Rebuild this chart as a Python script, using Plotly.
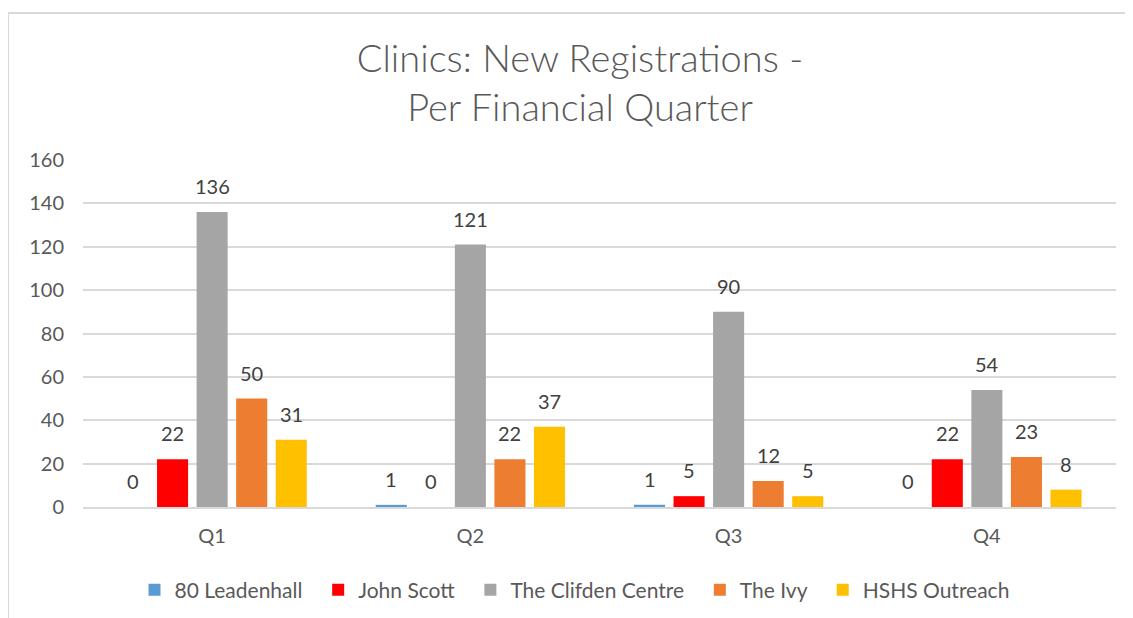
import plotly.graph_objects as go

quarters = ["Q1", "Q2", "Q3", "Q4"]
series_names = ["80 Leadenhall", "John Scott", "The Clifden Centre", "The Ivy", "HSHS Outreach"]
leadenhall = [0, 1, 1, 0]
john_scott = [22, 0, 5, 22]
clifden = [136, 121, 90, 54]
ivy = [50, 22, 12, 23]
hshs = [31, 37, 5, 8]
colors = ["#5B9BD5", "#FF0000", "#A5A5A5", "#ED7D31", "#FFC000"]

all_values = [leadenhall, john_scott, clifden, ivy, hshs]

FONT = "Lato, 'Open Sans', sans-serif"

# page is drawn with an 8px body margin; work in figure pixels
W, H = 1133, 618
L, R, T, B = 75, 25, 152, 119
pw = W - L - R
ph = H - T - B
BARGAP, GROUPGAP = 0.234, 0.215
n = len(series_names)
slot = pw / len(quarters) * (1 - BARGAP) / n

fig = go.Figure()
annotations = []
for i, (name, vals, col) in enumerate(zip(series_names, all_values, colors)):
    fig.add_trace(go.Bar(
        name=name + "\u00a0\u00a0", x=quarters, y=vals,
        marker=dict(color=col, line=dict(width=0)),
        cliponaxis=False, hoverinfo="x+y+name",
    ))
    for q, v in zip(quarters, vals):
        annotations.append(dict(
            x=q, y=v, xref="x", yref="y", text=str(v), showarrow=False,
            xshift=(i - (n - 1) / 2) * slot, yshift=26, yanchor="middle",
            font=dict(family=FONT, size=20, color="#404040"),
        ))

fig.update_layout(
    width=W, height=H,
    margin=dict(l=L, r=R, t=T, b=B),
    paper_bgcolor="white", plot_bgcolor="white",
    barmode="group", bargap=BARGAP, bargroupgap=GROUPGAP,
    font=dict(family=FONT, color="#595959"),
    title=dict(
        text="Clinics: New Registrations -<br>Per Financial Quarter",
        x=572 / W, xanchor="center", xref="container",
        y=1 - 63.5 / H, yanchor="middle", yref="container",
        font=dict(family=FONT, size=38, color="#595959", weight=300),
    ),
    xaxis=dict(
        showgrid=False, showline=True, linecolor="#D9D9D9", linewidth=2,
        ticks="", tickfont=dict(size=20, color="#595959"),
        ticklabelstandoff=10,
    ),
    yaxis=dict(
        range=[0, 160], dtick=20, showgrid=True, gridcolor="#D9D9D9", gridwidth=2,
        zeroline=False, showline=False, ticks="",
        tickfont=dict(size=20, color="#595959"), ticklabelstandoff=18,
    ),
    legend=dict(
        orientation="h", x=(572 - L) / pw, xanchor="center",
        y=(499 - 582) / ph, yanchor="middle",
        font=dict(size=21, color="#595959"),
        itemwidth=30, traceorder="normal",
    ),
    showlegend=True,
    annotations=annotations,
    shapes=[dict(
        type="rect", xref="paper", yref="paper",
        x0=(0 - L) / pw, x1=1.5, y0=-1.0, y1=(499 - 5) / ph,
        line=dict(color="#D9D9D9", width=2), fillcolor="rgba(0,0,0,0)", layer="below",
    )],
)

fig.write_html("out.html")
